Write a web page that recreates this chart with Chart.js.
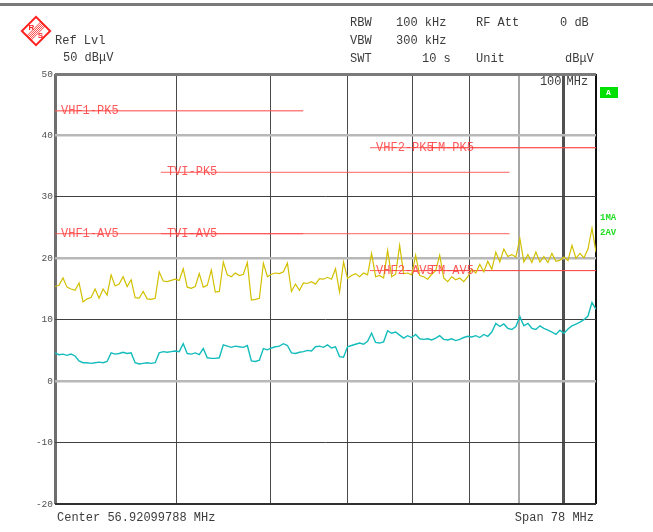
<!DOCTYPE html>
<html>
<head>
<meta charset="utf-8">
<script src="https://cdn.jsdelivr.net/npm/chart.js@4"></script>
<style>
  html, body { margin: 0; padding: 0; background: #fff; }
  #wrap { width: 653px; height: 532px; }
</style>
</head>
<body>
<div id="wrap"><canvas id="emiChart" width="653" height="532"></canvas></div>
<script>
// sweep settings (log axis 30 .. 108 MHz)
const START_MHZ = 30;
const STOP_MHZ = 108;
const GRID_MHZ = [30, 40, 50, 60, 70, 80, 90, 100, 108];
const Y_MIN = -20;
const Y_MAX = 50;

// trace 1: max peak (dBµV)
const peakTrace = [
    15.4, 15.6, 16.8, 15.3, 15.0, 14.8, 16.0, 12.9, 13.4, 13.6,
    15.0, 13.5, 15.0, 14.0, 17.3, 15.5, 15.8, 17.0, 15.4, 16.5,
    13.6, 13.5, 14.6, 13.4, 13.3, 13.5, 17.8, 16.3, 16.2, 16.4,
    16.6, 16.4, 18.3, 15.3, 15.1, 15.4, 17.5, 15.3, 15.6, 18.1,
    14.5, 14.6, 19.4, 17.3, 17.0, 17.6, 17.2, 17.4, 19.3, 13.2,
    13.3, 13.5, 19.2, 17.0, 17.4, 17.6, 17.5, 17.8, 19.2, 14.6,
    15.8, 14.8, 16.0, 15.9, 16.2, 15.8, 16.7, 16.6, 16.9, 16.6,
    18.3, 14.5, 19.4, 16.7, 17.2, 17.5, 17.0, 17.6, 17.3, 20.8,
    17.0, 17.2, 16.8, 21.3, 17.0, 17.4, 22.1, 17.5, 17.6, 17.3,
    20.5, 17.2, 17.0, 16.6, 17.4, 18.0, 20.5, 16.8, 16.2, 17.0,
    16.5, 16.8, 16.2, 17.0, 18.2, 17.6, 19.0, 17.8, 19.5, 18.2,
    21.0, 19.4, 21.5, 20.3, 20.6, 20.2, 23.2, 19.4, 20.6, 19.3,
    21.0, 19.4, 20.3, 19.3, 20.8, 19.5, 19.7, 20.2, 19.6, 22.1,
    20.0, 20.8, 20.1, 21.5, 24.9, 21.0
];

// trace 2: average (dBµV)
const avgTrace = [
    4.6, 4.3, 4.4, 4.2, 4.4, 4.1, 3.3, 3.0, 3.0, 2.9,
    3.0, 3.1, 3.0, 3.2, 4.6, 4.4, 4.5, 4.7, 4.5, 4.6,
    3.0, 2.8, 2.9, 3.0, 2.9, 3.0, 4.6, 4.8, 4.7, 4.8,
    4.9, 4.8, 6.1, 4.5, 4.4, 4.6, 4.3, 5.3, 3.8, 3.7,
    3.7, 3.8, 5.9, 5.7, 5.5, 5.7, 5.6, 5.5, 5.8, 3.3,
    3.2, 3.4, 5.3, 5.1, 5.4, 5.6, 5.7, 6.1, 5.8, 4.6,
    4.5, 4.7, 4.8, 5.0, 4.9, 5.6, 5.7, 5.5, 5.9, 5.4,
    5.6, 4.0, 3.9, 5.6, 5.8, 6.0, 6.2, 6.0, 6.5, 7.8,
    6.3, 6.2, 6.4, 8.2, 7.8, 8.0, 7.5, 7.0, 7.4, 7.1,
    7.6, 6.9, 6.8, 6.9, 6.7, 7.0, 7.4, 6.8, 6.7, 6.9,
    6.6, 6.8, 7.1, 7.3, 7.2, 7.4, 7.1, 7.6, 7.3, 8.0,
    9.4, 8.9, 9.3, 8.6, 8.4, 8.9, 10.5, 9.0, 9.4, 8.6,
    8.4, 9.0, 8.6, 8.3, 8.0, 7.6, 8.3, 7.8, 8.5, 9.0,
    9.3, 9.6, 10.0, 10.6, 12.8, 11.7
];

// limit lines: name, level (dBµV), start/stop (MHz)
const limitNames  = ['VHF1-PK5', 'VHF1-AV5', 'TVI-PK5', 'TVI-AV5', 'VHF2-PK5', 'VHF2-AV5', 'FM-PK5', 'FM-AV5'];
const limitLevels = [44, 24, 34, 24, 38, 18, 38, 18];
const limitStart  = [30, 30, 38.55, 38.55, 63.25, 63.25, 72, 72];
const limitStop   = [54, 54, 88, 88, 108, 108, 108, 108];

const MONO = '"Liberation Mono", "DejaVu Sans Mono", monospace';

// sweep points are evenly spaced on the log frequency axis
const sweepMHz = peakTrace.map((_, i) =>
    START_MHZ * Math.pow(STOP_MHZ / START_MHZ, i / (peakTrace.length - 1)));

const datasets = [
    {
        label: '1MA',
        data: peakTrace.map((v, i) => ({ x: sweepMHz[i], y: v })),
        borderColor: '#d2c000',
        borderWidth: 1.2
    },
    {
        label: '2AV',
        data: avgTrace.map((v, i) => ({ x: sweepMHz[i], y: v })),
        borderColor: '#14bcbc',
        borderWidth: 1.4
    }
];
limitNames.forEach((name, i) => {
    datasets.push({
        label: name,
        data: [{ x: limitStart[i], y: limitLevels[i] }, { x: limitStop[i], y: limitLevels[i] }],
        borderColor: i === 0 ? 'rgba(255, 90, 90, 0.75)' : 'rgba(255, 70, 70, 0.85)',
        borderWidth: i === 0 ? 1.5 : 1
    });
});

// header texts, logo and labels drawn on the canvas
const decorPlugin = {
    id: 'decor',
    beforeDraw(chart) {
        const c = chart.ctx;
        c.save();
        c.fillStyle = '#fff';
        c.fillRect(0, 0, chart.width, chart.height);
        c.fillStyle = '#7a7a7a';
        c.fillRect(0, 3, chart.width, 3);
        c.restore();
    },
    afterDatasetsDraw(chart) {
        const c = chart.ctx;
        const xs = chart.scales.x;
        const ys = chart.scales.y;
        c.save();
        // limit line labels
        c.font = '12px ' + MONO;
        c.textBaseline = 'middle';
        c.fillStyle = 'rgba(255, 60, 60, 0.85)';
        limitNames.forEach((name, i) => {
            c.fillText(name, xs.getPixelForValue(limitStart[i]) + 6, ys.getPixelForValue(limitLevels[i]));
        });

        // header
        c.fillStyle = '#3c3c3c';
        c.font = '12px ' + MONO;
        c.textBaseline = 'middle';
        c.fillText('Ref Lvl', 55, 41);
        c.fillText('50 dBμV', 63, 58);
        c.fillText('RBW', 350, 23);
        c.fillText('100 kHz', 396, 23);
        c.fillText('RF Att', 476, 23);
        c.fillText('0 dB', 560, 23);
        c.fillText('VBW', 350, 41);
        c.fillText('300 kHz', 396, 41);
        c.fillText('SWT', 350, 59);
        c.fillText('10 s', 422, 59);
        c.fillText('Unit', 476, 59);
        c.fillText('dBμV', 565, 59);

        // frequency line label
        const f100 = xs.getPixelForValue(100);
        c.textAlign = 'right';
        c.fillText('100', f100 - 2, 82);
        c.textAlign = 'left';
        c.fillText('MHz', f100 + 3, 82);

        // footer
        c.fillText('Center 56.92099788 MHz', 57, 518);
        c.textAlign = 'right';
        c.fillText('Span 78 MHz', 594, 518);

        // trace markers on the right
        c.textAlign = 'left';
        c.fillStyle = '#00e000';
        c.fillRect(600, 87, 18, 11);
        c.fillStyle = '#fff';
        c.font = 'bold 8px ' + MONO;
        c.fillText('A', 606, 92.5);
        c.fillStyle = '#22dd22';
        c.font = 'bold 9px ' + MONO;
        c.fillText('1MA', 600, 218);
        c.fillText('2AV', 600, 233);

        // R&S logo
        c.translate(36, 31);
        c.rotate(Math.PI / 4);
        c.strokeStyle = '#ff2020';
        c.lineWidth = 2;
        c.strokeRect(-10, -10, 20, 20);
        c.lineWidth = 0.8;
        for (let k = -3; k <= 3; k += 1.5) {
            c.beginPath();
            c.moveTo(k, -10);
            c.lineTo(k, 10);
            c.stroke();
        }
        c.rotate(-Math.PI / 4);
        c.fillStyle = '#ff2020';
        c.font = 'bold 8px "Liberation Sans", sans-serif';
        c.textAlign = 'center';
        c.fillText('R', -4.5, -3.5);
        c.fillText('S', 4.5, 5);
        c.restore();
    }
};

function xGridColor(v) {
    if (v === 30) return '#6e6e6e';
    if (v === 90) return '#a8a8a8';
    if (v === 100) return '#505050';
    if (v === 108) return '#101010';
    return '#4a4a4a';
}
function xGridWidth(v) {
    if (v === 30) return 3;
    if (v === 90 || v === 108) return 2;
    if (v === 100) return 3;
    return 1;
}
function yGridColor(v) {
    if (v === 50) return '#7a7a7a';
    if (v === -20) return '#303030';
    if (v === 40 || v === 20 || v === 0) return '#b8b8b8';
    return '#404040';
}
function yGridWidth(v) {
    if (v === 50) return 3;
    if (v === -20) return 2;
    if (v === 40 || v === 20 || v === 0) return 2.5;
    return 1;
}

const ctx = document.getElementById('emiChart').getContext('2d');
const emiChart = new Chart(ctx, {
    type: 'line',
    data: { datasets: datasets },
    options: {
        responsive: false,
        devicePixelRatio: 1,
        animation: false,
        layout: { padding: { top: 74, right: 57, bottom: 28, left: 0 } },
        elements: {
            point: { radius: 0 },
            line: { tension: 0, fill: false }
        },
        plugins: {
            legend: { display: false },
            tooltip: { enabled: false }
        },
        scales: {
            x: {
                type: 'logarithmic',
                min: START_MHZ,
                max: STOP_MHZ,
                afterBuildTicks(scale) {
                    scale.ticks = GRID_MHZ.map(v => ({ value: v }));
                },
                afterFit(scale) { scale.height = 0; },
                ticks: { display: false },
                border: { display: false },
                grid: {
                    drawTicks: false,
                    color: c => xGridColor(c.tick.value),
                    lineWidth: c => xGridWidth(c.tick.value)
                }
            },
            y: {
                min: Y_MIN,
                max: Y_MAX,
                afterFit(scale) { scale.width = 55; },
                ticks: {
                    stepSize: 10,
                    padding: 2,
                    color: '#505050',
                    font: { family: MONO, size: 9.5 }
                },
                border: { display: false },
                grid: {
                    drawTicks: false,
                    color: c => yGridColor(c.tick.value),
                    lineWidth: c => yGridWidth(c.tick.value)
                }
            }
        }
    },
    plugins: [decorPlugin]
});
</script>
</body>
</html>
